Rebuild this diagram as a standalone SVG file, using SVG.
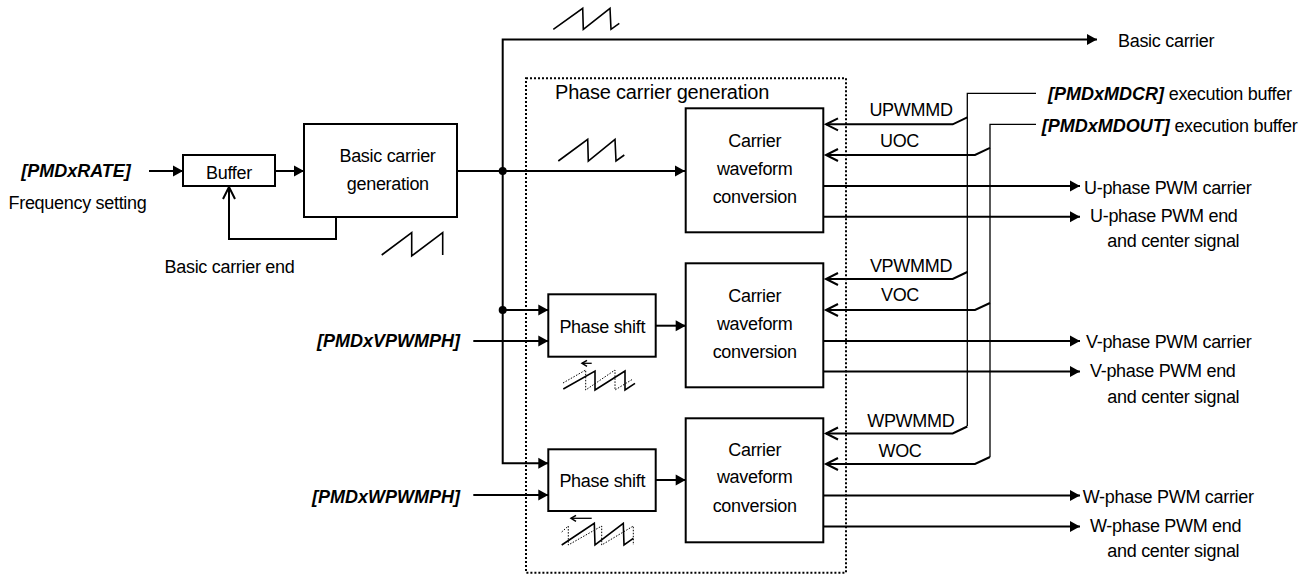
<svg xmlns="http://www.w3.org/2000/svg" width="1312" height="576" viewBox="0 0 1312 576">
<defs>
<style>
text{font-family:"Liberation Sans",Arial,sans-serif;font-size:18px;fill:#000;letter-spacing:-0.3px}
.b{font-weight:bold;font-style:italic;letter-spacing:0}
.m{text-anchor:middle}
.e{text-anchor:end}
.box{fill:#fff;stroke:#000;stroke-width:2}
.ln{fill:none;stroke:#000;stroke-width:2}
.thin{fill:none;stroke:#000;stroke-width:1.3}
.saw{fill:none;stroke:#000;stroke-width:1.6}
.dot{fill:none;stroke:#000;stroke-width:1;stroke-dasharray:1.5 1.5}
.fa{marker-end:url(#fa)}
.oa{marker-end:url(#oa)}
</style>
<marker id="fa" markerUnits="userSpaceOnUse" markerWidth="10" markerHeight="11" refX="10" refY="5.5" orient="auto" overflow="visible">
<path d="M0,0 L10,5.5 L0,11 Z" fill="#000"/>
</marker>
<marker id="oa" markerUnits="userSpaceOnUse" markerWidth="13" markerHeight="13" refX="12" refY="6" orient="auto" overflow="visible">
<path d="M0,0 L12,6 L0,12" fill="none" stroke="#000" stroke-width="2"/>
</marker>
<marker id="sa" markerUnits="userSpaceOnUse" markerWidth="6" markerHeight="6" refX="5" refY="3" orient="auto" overflow="visible">
<path d="M0,0 L5,3 L0,6" fill="none" stroke="#000" stroke-width="1.5"/>
</marker>
</defs>
<rect width="1312" height="576" fill="#fff"/>

<g id="phase-carrier-generation">
<rect x="526" y="78.3" width="320" height="494.4" fill="none" stroke="#000" stroke-width="2" stroke-dasharray="2 2"/>
<text x="555" y="99.3" style="font-size:20px;letter-spacing:-0.2px">Phase carrier generation</text>
</g>

<g id="connectors">
<path class="ln fa" d="M149,171 H183"/>
<path class="ln fa" d="M275,171 H304"/>
<path class="ln oa" d="M336,217 V239 H229 V187"/>
<path class="ln fa" d="M457,171 H685"/>
<path class="ln fa" d="M502.7,171 V39.5 H1097"/>
<path class="ln fa" d="M502.7,171 V463.3 H548.3"/>
<path class="ln fa" d="M502.7,310 H548.3"/>
<path class="ln fa" d="M473.3,341 H548.3"/>
<path class="ln fa" d="M473.3,495 H548.3"/>
<path class="ln fa" d="M655.7,325.7 H685.7"/>
<path class="ln fa" d="M655.7,480 H685.7"/>
<circle cx="502.7" cy="171" r="4"/>
<circle cx="502.7" cy="310" r="4"/>
<!-- mode bus -->
<path class="thin" d="M1036,93.3 H967.3 V426"/>
<path class="thin" d="M1036,124.3 H990 V457"/>
<path class="ln oa" d="M967.3,117.3 L952.7,124.3 H826"/>
<path class="ln oa" d="M990,147.8 L975,155 H826"/>
<path class="ln oa" d="M967.3,272 L952.7,279 H826"/>
<path class="ln oa" d="M990,303 L975,310 H826"/>
<path class="ln oa" d="M967.3,426.5 L952.7,433.5 H826"/>
<path class="ln oa" d="M990,457 L975,464 H826"/>
<!-- outputs -->
<path class="ln fa" d="M823.3,186 H1080"/>
<path class="ln fa" d="M823.3,216.7 H1080"/>
<path class="ln fa" d="M823.3,341 H1080"/>
<path class="ln fa" d="M823.3,371.5 H1080"/>
<path class="ln fa" d="M823.3,495.5 H1080"/>
<path class="ln fa" d="M823.3,526.5 H1080"/>
</g>

<g id="waveforms">
<polyline class="saw" points="553.3,29.3 582.7,8.3 583.3,29.3 610,8.3 611,29.3 619.3,23.3"/>
<polyline class="saw" points="558.3,161 587.7,139.3 588.3,161 615,139.3 616,161 624.3,155"/>
<polyline class="saw" points="381.7,255 411.7,232.7 411.7,256 442.7,232.7 442.7,255"/>
<polyline class="dot" points="563,383 585.7,370 585.7,390 615,370 615,390 633,379"/>
<polyline class="saw" points="563.3,389 595,371 595,390 625,371 625,390 635,383.3"/>
<path class="thin" d="M591.7,363.3 H582" marker-end="url(#sa)"/>
<polyline class="dot" points="561.7,532 568.3,526 568.3,545 601.7,526 601.7,545 633.3,526 633.3,545"/>
<polyline class="saw" points="561.7,545 594.3,523.3 595,545 623.3,523.3 624,545 633.3,538.3"/>
<path class="thin" d="M591.7,518.3 H571" marker-end="url(#sa)"/>
</g>

<g id="buffer">
<rect class="box" x="183" y="155" width="92" height="31"/>
<text class="m" x="229" y="179">Buffer</text>
</g>

<g id="basic-carrier-generation">
<rect class="box" x="304" y="124" width="153" height="93"/>
<text class="m" x="387.5" y="162.3">Basic carrier</text>
<text class="m" x="387.8" y="190">generation</text>
</g>

<g id="carrier-waveform-u">
<rect class="box" x="685.7" y="108.3" width="137.6" height="124"/>
<text class="m" x="754.7" y="146.7">Carrier</text>
<text class="m" x="754.7" y="175">waveform</text>
<text class="m" x="754.7" y="202.7">conversion</text>
</g>

<g id="phase-shift-v">
<rect class="box" x="548.3" y="294.3" width="107.4" height="62.4"/>
<text class="m" x="602.3" y="332.7">Phase shift</text>
</g>

<g id="carrier-waveform-v">
<rect class="box" x="685.7" y="263.3" width="137.6" height="124"/>
<text class="m" x="754.7" y="301.7">Carrier</text>
<text class="m" x="754.7" y="330">waveform</text>
<text class="m" x="754.7" y="357.7">conversion</text>
</g>

<g id="phase-shift-w">
<rect class="box" x="548.3" y="449.3" width="107.4" height="61.7"/>
<text class="m" x="602.3" y="486.7">Phase shift</text>
</g>

<g id="carrier-waveform-w">
<rect class="box" x="685.7" y="418.3" width="137.6" height="124"/>
<text class="m" x="754.7" y="456">Carrier</text>
<text class="m" x="754.7" y="483.3">waveform</text>
<text class="m" x="754.7" y="511.7">conversion</text>
</g>

<g id="labels">
<text class="b m" x="76" y="177.3">[PMDxRATE]</text>
<text class="m" x="77.5" y="208.5">Frequency setting</text>
<text class="m" x="229.5" y="272.7">Basic carrier end</text>
<text class="b e" x="460" y="346.7">[PMDxVPWMPH]</text>
<text class="b e" x="460" y="502.7">[PMDxWPWMPH]</text>
<text x="1118" y="46.7">Basic carrier</text>
<text x="1048" y="100"><tspan class="b">[PMDxMDCR]</tspan> execution buffer</text>
<text x="1041.7" y="131.7"><tspan class="b">[PMDxMDOUT]</tspan> execution buffer</text>
<text class="m" x="911" y="116">UPWMMD</text>
<text class="m" x="899.5" y="146.7">UOC</text>
<text class="m" x="911" y="271.7">VPWMMD</text>
<text class="m" x="900" y="300.7">VOC</text>
<text class="m" x="910.8" y="426.7">WPWMMD</text>
<text class="m" x="900" y="456.7">WOC</text>
<text x="1084" y="194">U-phase PWM carrier</text>
<text x="1090" y="221.7">U-phase PWM end</text>
<text x="1107.3" y="247.3">and center signal</text>
<text x="1086" y="348.3">V-phase PWM carrier</text>
<text x="1090" y="376.7">V-phase PWM end</text>
<text x="1107.3" y="402.7">and center signal</text>
<text x="1082.7" y="502.7">W-phase PWM carrier</text>
<text x="1090" y="531.7">W-phase PWM end</text>
<text x="1107.3" y="556.7">and center signal</text>
</g>
</svg>
